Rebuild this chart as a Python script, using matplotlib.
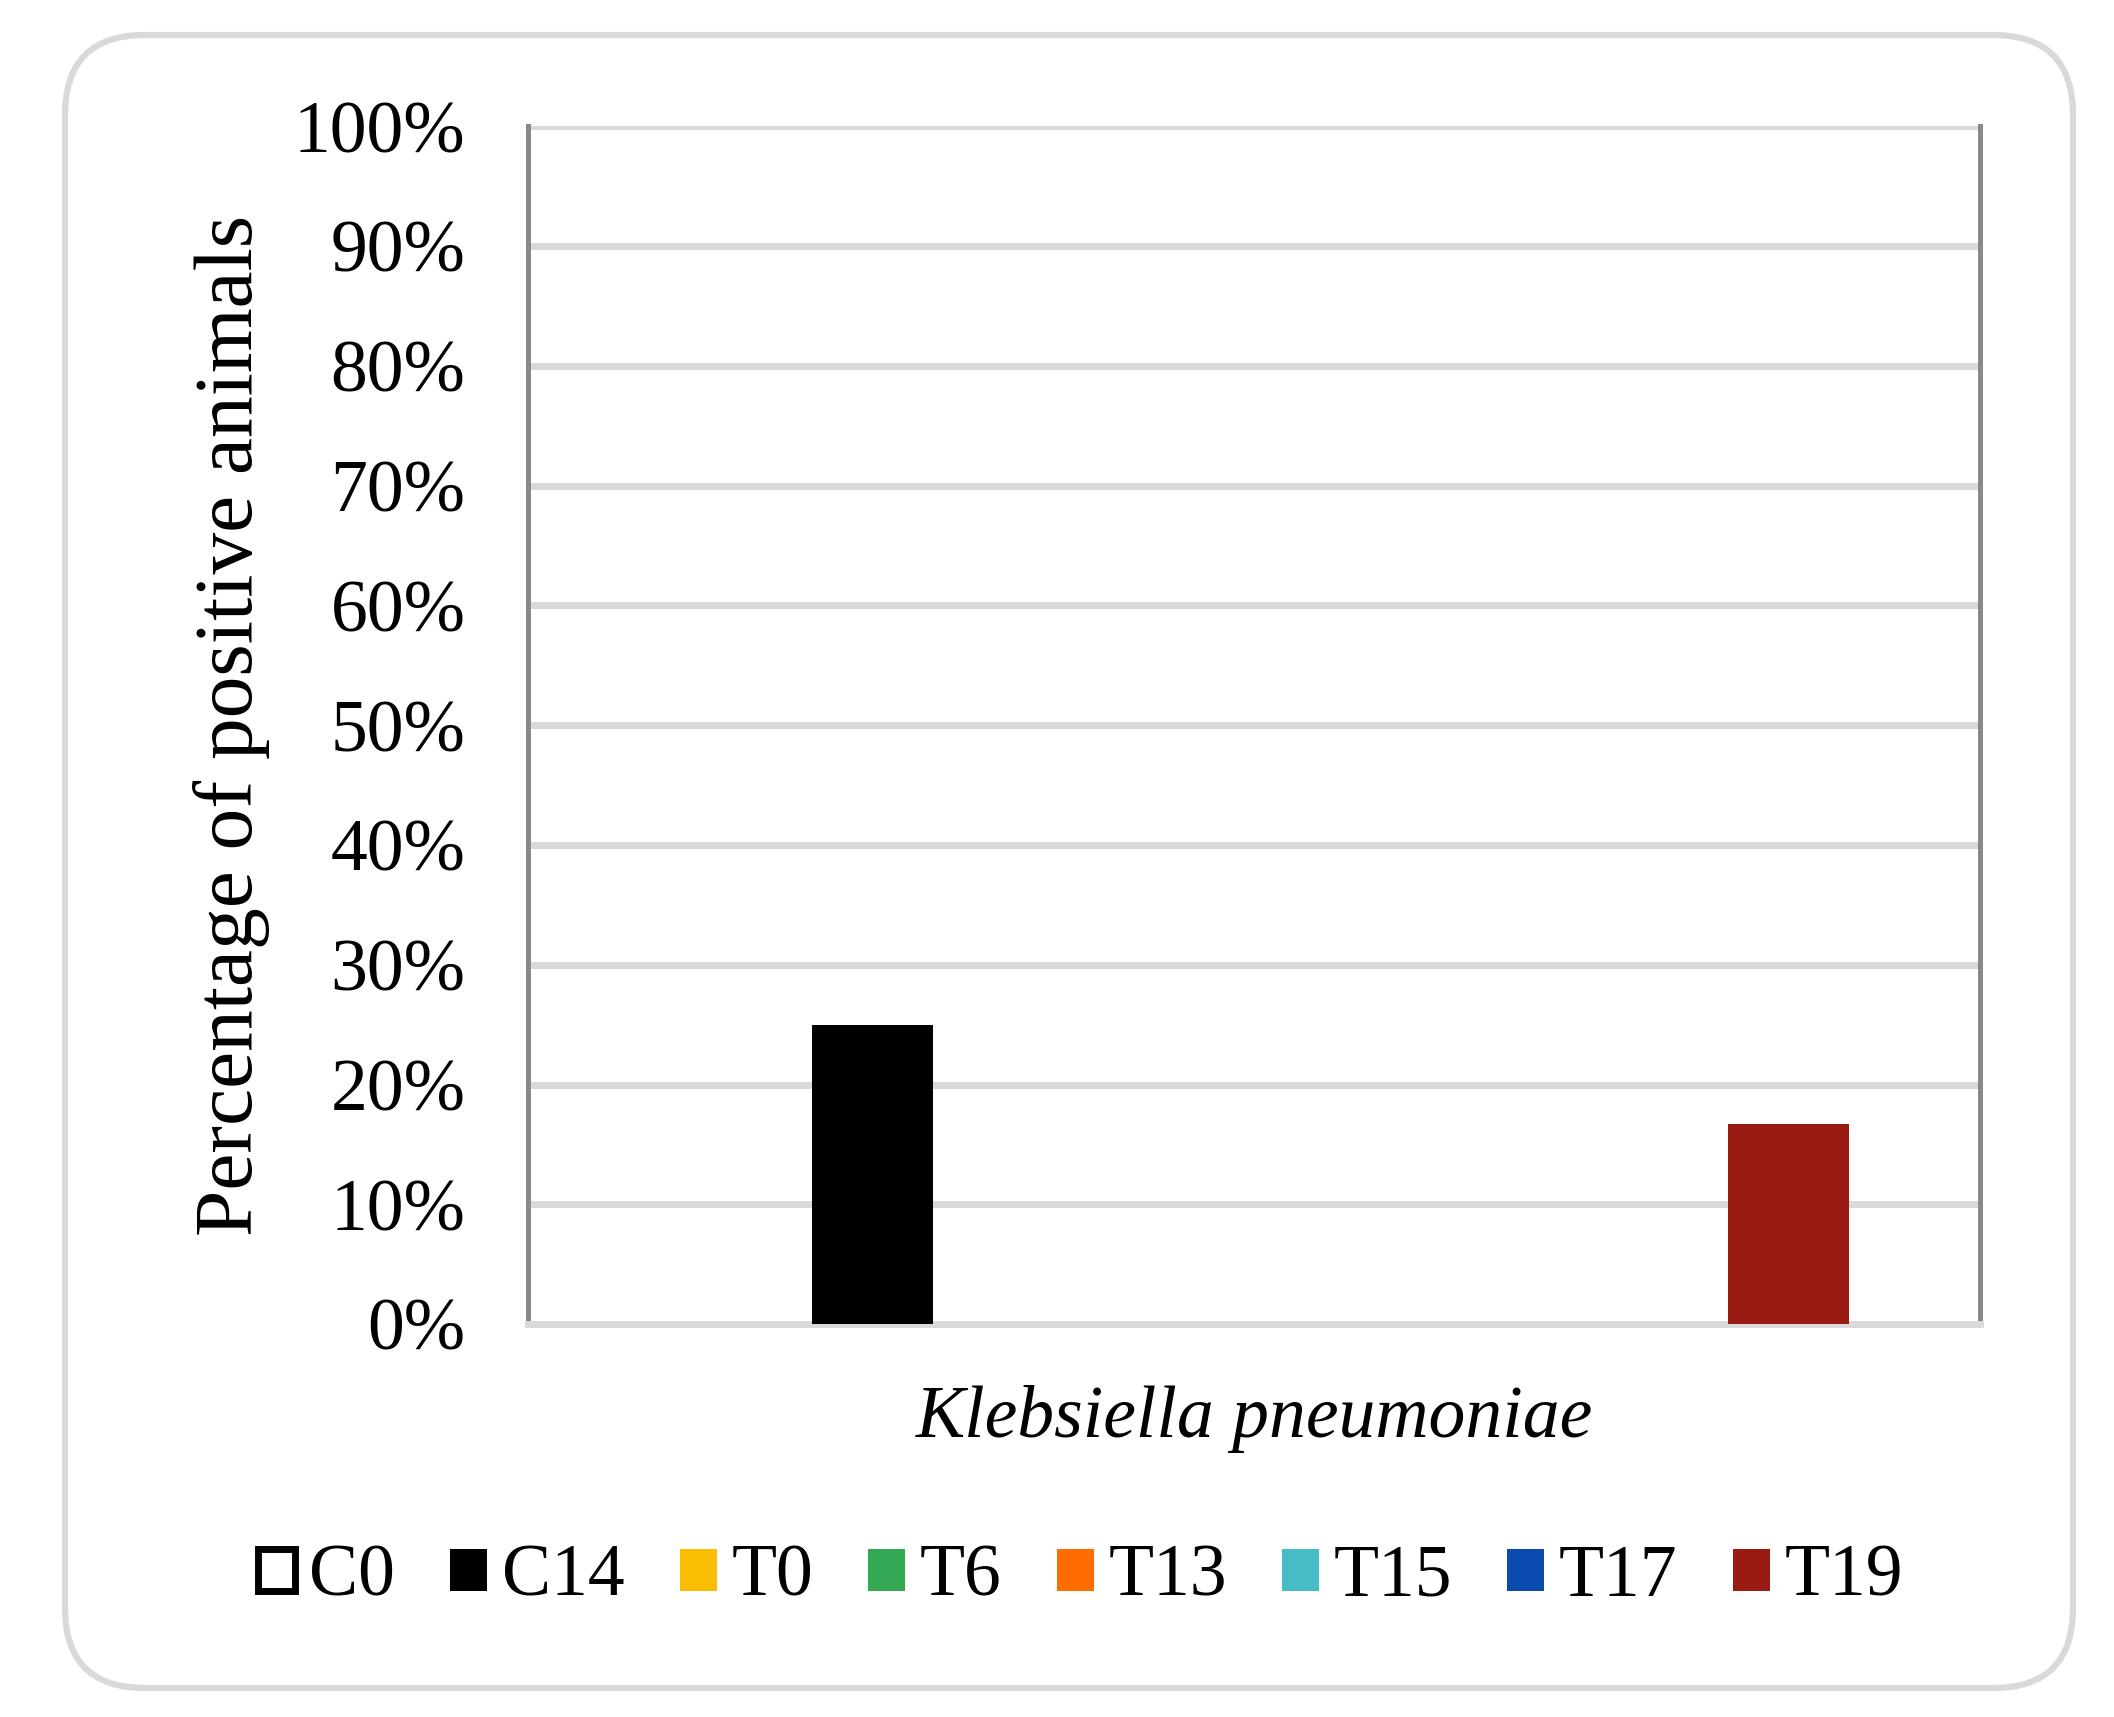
import matplotlib
matplotlib.use("Agg")
import matplotlib.pyplot as plt
from matplotlib.patches import Patch, FancyBboxPatch
from matplotlib.transforms import IdentityTransform
from matplotlib.ticker import PercentFormatter

plt.rcParams['font.family'] = ['Liberation Serif', 'DejaVu Serif']

# ---- data ----
category = ["Klebsiella pneumoniae"]
series = ["C0", "C14", "T0", "T6", "T13", "T15", "T17", "T19"]
values = [0.0, 0.25, 0.0, 0.0, 0.0, 0.0, 0.0, 1/6]
colors = ["#FFFFFF", "#000000", "#FBBC04", "#34A853", "#FF6D01", "#46BDC6", "#0B4BB0", "#9A1B11"]
yticks = [0, 0.1, 0.2, 0.3, 0.4, 0.5, 0.6, 0.7, 0.8, 0.9, 1.0]

W, H, DPI = 2114, 1717, 100
fig = plt.figure(figsize=(W / DPI, H / DPI), dpi=DPI)

# rounded outer frame (pixel coordinates)
frame = FancyBboxPatch((65, H - 1688), 2073 - 65, 1688 - 35,
                       boxstyle="round,pad=0,rounding_size=80",
                       transform=IdentityTransform(), facecolor="white",
                       edgecolor="#D9D9D9", linewidth=4.5, zorder=0)
fig.add_artist(frame)

left, right, top, bottom = 528 / W, 1980 / W, 1 - 126.5 / H, 1 - 1324 / H
ax = fig.add_axes([left, bottom, right - left, top - bottom])
ax.set_facecolor("none")

n = len(series)
slot = 0.10517
bw = 0.0833
for i, (s, v, c) in enumerate(zip(series, values, colors)):
    ax.bar(0 + (i - (n - 1) / 2) * slot, v, width=bw, color=c, linewidth=0, zorder=3)

ax.set_xlim(-0.5, 0.5)
ax.set_ylim(0, 1.0)
ax.set_yticks(yticks)
ax.yaxis.set_major_formatter(PercentFormatter(1.0, decimals=0))
ax.grid(axis="y", color="#D9D9D9", linewidth=5, zorder=0)
ax.set_axisbelow(True)
ax.tick_params(axis="y", length=0, pad=45, labelsize=53)
ax.set_xticks([0])
ax.set_xticklabels(category, fontstyle="italic")
ax.tick_params(axis="x", length=0, pad=44, labelsize=53)

for side in ["left", "right"]:
    ax.spines[side].set_color("#898989")
    ax.spines[side].set_linewidth(3.6)
ax.spines["top"].set_visible(False)
ax.spines["bottom"].set_color("#D9D9D9")
ax.spines["bottom"].set_linewidth(5)

ax.set_ylabel("Percentage of positive animals", fontsize=60)
ax.yaxis.set_label_coords(-0.178, 0.5)

handles = []
for s, c in zip(series, colors):
    if s == "C0":
        handles.append(Patch(facecolor="white", edgecolor="black", linewidth=5,
                             joinstyle="miter", label=s))
    else:
        handles.append(Patch(facecolor=c, edgecolor="none", label=s))

fig.legend(handles=handles, loc="center", bbox_to_anchor=(0.511, 0.081),
           ncol=n, frameon=False, fontsize=53, handlelength=0.5, handleheight=0.5,
           handletextpad=0.2, columnspacing=0.75, borderaxespad=0)

fig.savefig("out.png", dpi=DPI, facecolor="white")
